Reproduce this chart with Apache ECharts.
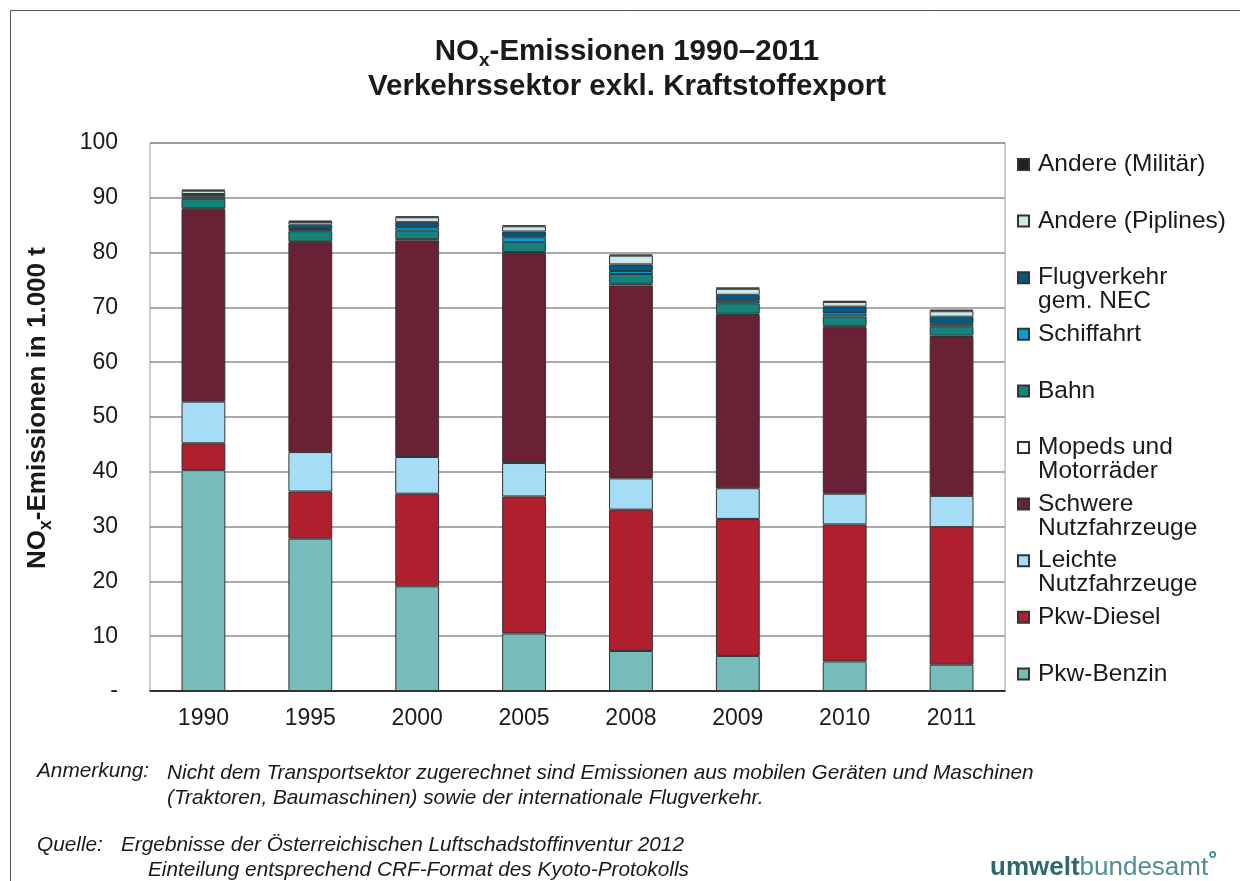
<!DOCTYPE html>
<html>
<head>
<meta charset="utf-8">
<script src="https://cdn.jsdelivr.net/npm/echarts@6/dist/echarts.min.js"></script>
<style>
  html, body { margin: 0; padding: 0; background: #fff; }
  #chart { width: 1240px; height: 881px; }
</style>
</head>
<body>
<div id="chart"></div>
<script>
// NOx emissions of the transport sector, in 1 000 t
const years = ['1990', '1995', '2000', '2005', '2008', '2009', '2010', '2011'];

const pkwBenzin   = [40.3, 27.8, 19.1, 10.5, 7.3, 6.4, 5.4, 4.8];
const pkwDiesel   = [4.9, 8.6, 16.9, 25.0, 25.8, 25.0, 25.0, 25.1];
const leichteNfz  = [7.6, 7.2, 6.7, 6.1, 5.7, 5.6, 5.6, 5.7];
const schwereNfz  = [35.1, 38.3, 39.5, 38.3, 35.2, 31.6, 30.4, 29.0];
const mopeds      = [0.15, 0.15, 0.25, 0.2, 0.3, 0.25, 0.25, 0.25];
const bahn        = [1.8, 1.85, 1.55, 1.8, 1.8, 1.9, 1.7, 1.7];
const schiffahrt  = [0.35, 0.4, 0.65, 0.9, 0.55, 0.45, 0.55, 0.45];
const flugverkehr = [0.5, 0.8, 0.9, 1.05, 1.2, 1.1, 1.25, 1.3];
const pipelines   = [0.6, 0.5, 0.9, 0.95, 1.6, 1.1, 0.85, 1.0];
const militaer    = [0.2, 0.25, 0.15, 0.2, 0.2, 0.25, 0.2, 0.3];

const yTicks = [0, 10, 20, 30, 40, 50, 60, 70, 80, 90, 100];

// stacking order, bottom to top
const layers = [
  { name: 'Pkw-Benzin', data: pkwBenzin, color: '#76bcba' },
  { name: 'Pkw-Diesel', data: pkwDiesel, color: '#b01f2e' },
  { name: 'Leichte\nNutzfahrzeuge', data: leichteNfz, color: '#a6ddf6' },
  { name: 'Schwere\nNutzfahrzeuge', data: schwereNfz, color: '#6a2136' },
  { name: 'Mopeds und\nMotorräder', data: mopeds, color: '#ffffff' },
  { name: 'Bahn', data: bahn, color: '#13847c' },
  { name: 'Schiffahrt', data: schiffahrt, color: '#00a0dc' },
  { name: 'Flugverkehr\ngem. NEC', data: flugverkehr, color: '#005a82' },
  { name: 'Andere (Piplines)', data: pipelines, color: '#cde8e8' },
  { name: 'Andere (Militär)', data: militaer, color: '#231f20' }
];

const FONT = '"Liberation Sans", Arial, sans-serif';
const TXT = '#1a1a1a';

// legend: one block per entry, listed top to bottom, evenly spaced;
// the symbol sits beside the first line of two-line entries
const legendTopY = 164, legendStep = 56.6, legendLine = 24;
const legends = layers.slice().reverse().map(function (l, i) {
  const twoLines = l.name.indexOf('\n') >= 0;
  const boxH = twoLines ? legendLine * 3 : legendLine;
  return {
    data: [l.name],
    orient: 'vertical',
    left: 1017,
    top: legendTopY + i * legendStep - boxH / 2,
    padding: 0,
    itemWidth: 11,
    itemHeight: 11,
    itemGap: 0,
    icon: 'rect',
    selectedMode: false,
    formatter: function (name) { return twoLines ? ' \n' + name : name; },
    textStyle: {
      fontFamily: FONT,
      fontSize: 24.5,
      color: TXT,
      lineHeight: legendLine,
      padding: [0, 0, 0, 4]
    }
  };
});

const chart = echarts.init(document.getElementById('chart'), null, { renderer: 'canvas' });

chart.setOption({
  animation: false,
  backgroundColor: '#ffffff',
  grid: {
    left: 150, right: 235, top: 143, bottom: 190,
    show: true, borderColor: '#9a9a9a', borderWidth: 1
  },
  legend: legends,
  xAxis: {
    type: 'category',
    data: years,
    axisLine: { lineStyle: { color: '#111', width: 1.5 } },
    axisTick: { show: false },
    axisLabel: { fontFamily: FONT, fontSize: 23, color: TXT, margin: 16 }
  },
  yAxis: {
    type: 'value',
    min: yTicks[0],
    max: yTicks[yTicks.length - 1],
    interval: 10,
    axisLine: { show: false },
    axisTick: { show: false },
    splitLine: { lineStyle: { color: '#8e8e8e', width: 1.5 } },
    axisLabel: {
      fontFamily: FONT, fontSize: 23, color: TXT, margin: 32,
      formatter: function (v) { return v === 0 ? '-' : String(v); }
    },
    name: '{a|NO}{s|x}{a|-Emissionen in 1.000 t}',
    nameLocation: 'middle',
    nameRotate: 90,
    nameGap: 95,
    nameTextStyle: {
      padding: [0, 0, 0, 18],
      rich: {
        a: { fontFamily: FONT, fontSize: 26, fontWeight: 'bold', color: TXT, lineHeight: 34 },
        s: { fontFamily: FONT, fontSize: 17.5, fontWeight: 'bold', color: TXT, lineHeight: 34, verticalAlign: 'bottom', padding: [16, 0, 0, 0] }
      }
    }
  },
  series: layers.map(function (l) {
    return {
      name: l.name,
      type: 'bar',
      stack: 'nox',
      data: l.data,
      barWidth: '41%',
      itemStyle: { color: l.color, borderColor: '#333333', borderWidth: 1 },
      emphasis: { disabled: true }
    };
  }),
  graphic: [
    // outer frame
    {
      type: 'polyline', silent: true,
      shape: { points: [[10.5, 881], [10.5, 10.5], [1240, 10.5]] },
      style: { stroke: '#555', lineWidth: 1, fill: null }
    },
    // title, two centred lines
    {
      type: 'text', x: 627, y: 52, silent: true,
      style: {
        text: '{t|NO}{s|x}{t|-Emissionen 1990–2011}',
        align: 'center', verticalAlign: 'middle',
        rich: {
          t: { fontFamily: FONT, fontSize: 29.5, fontWeight: 'bold', fill: TXT, lineHeight: 36 },
          s: { fontFamily: FONT, fontSize: 19, fontWeight: 'bold', fill: TXT, lineHeight: 36, verticalAlign: 'bottom', padding: [22, 0, 0, 0] }
        }
      }
    },
    {
      type: 'text', x: 627, y: 87, silent: true,
      style: {
        text: 'Verkehrssektor exkl. Kraftstoffexport',
        align: 'center', verticalAlign: 'middle',
        fontFamily: FONT, fontSize: 29.5, fontWeight: 'bold', fill: TXT
      }
    },
    // notes
    {
      type: 'text', left: 37, top: 761, silent: true,
      style: { text: 'Anmerkung:', fontFamily: FONT, fontSize: 20.8, fontStyle: 'italic', fill: TXT }
    },
    {
      type: 'text', left: 167, top: 761, silent: true,
      style: {
        text: 'Nicht dem Transportsektor zugerechnet sind Emissionen aus mobilen Geräten und Maschinen\n(Traktoren, Baumaschinen) sowie der internationale Flugverkehr.',
        fontFamily: FONT, fontSize: 20.8, fontStyle: 'italic', fill: TXT, lineHeight: 25
      }
    },
    {
      type: 'text', left: 37, top: 835, silent: true,
      style: { text: 'Quelle:', fontFamily: FONT, fontSize: 20.8, fontStyle: 'italic', fill: TXT }
    },
    {
      type: 'text', left: 121, top: 835, silent: true,
      style: {
        text: 'Ergebnisse der Österreichischen Luftschadstoffinventur 2012',
        fontFamily: FONT, fontSize: 20.8, fontStyle: 'italic', fill: TXT
      }
    },
    {
      type: 'text', left: 148, top: 860, silent: true,
      style: {
        text: 'Einteilung entsprechend CRF-Format des Kyoto-Protokolls',
        fontFamily: FONT, fontSize: 20.8, fontStyle: 'italic', fill: TXT
      }
    },
    // publisher mark
    {
      type: 'text', left: 990, top: 850, silent: true,
      style: {
        text: '{u|umwelt}{b|bundesamt}{c|°}',
        rich: {
          u: { fontFamily: FONT, fontSize: 26, fontWeight: 'bold', fill: '#2c6a6c' },
          b: { fontFamily: FONT, fontSize: 26, fill: '#4f8f92' },
          c: { fontFamily: FONT, fontSize: 22, fontWeight: 'bold', fill: '#2c8a8c', verticalAlign: 'top', padding: [0, 0, 14, 0] }
        }
      }
    }
  ]
});
</script>
</body>
</html>
